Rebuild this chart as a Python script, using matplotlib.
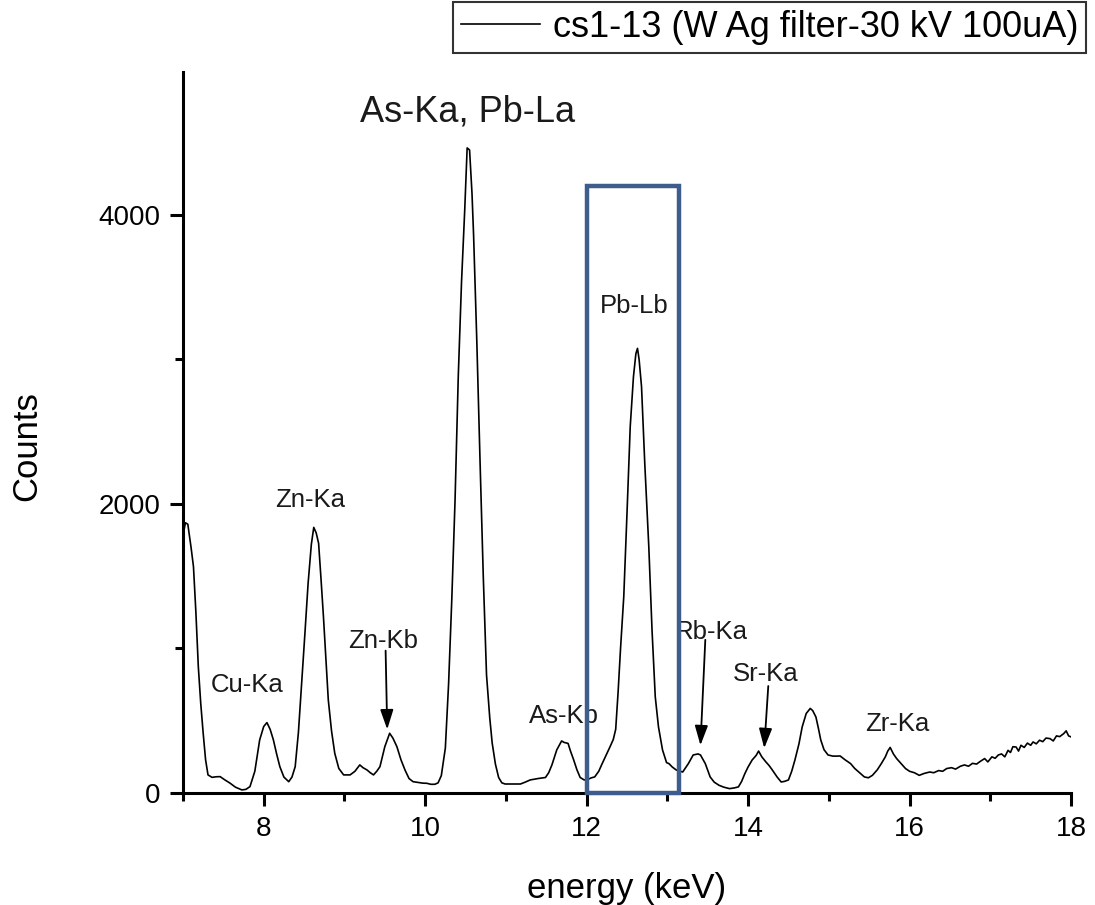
import matplotlib
matplotlib.use("Agg")
import matplotlib.pyplot as plt
from matplotlib.patches import Rectangle
from matplotlib.ticker import MultipleLocator

plt.rcParams['font.family'] = ['Liberation Sans', 'DejaVu Sans']

# ---- data ----
energy = [7.00, 7.03, 7.06, 7.10, 7.13, 7.16, 7.19, 7.22, 7.25, 7.28, 7.31, 7.36, 7.41, 7.46,
          7.52, 7.58, 7.65, 7.73, 7.78, 7.83, 7.89, 7.95, 8.00, 8.04, 8.08, 8.12, 8.16, 8.20,
          8.25, 8.31, 8.35, 8.39, 8.43, 8.47, 8.51, 8.55, 8.59, 8.62, 8.65, 8.68, 8.71, 8.74,
          8.77, 8.80, 8.84, 8.88, 8.93, 8.99, 9.07, 9.13, 9.19, 9.23, 9.28, 9.32, 9.36, 9.40,
          9.44, 9.50, 9.56, 9.60, 9.65, 9.70, 9.75, 9.80, 9.85, 9.92, 9.97, 10.02, 10.07, 10.12,
          10.16, 10.20, 10.25, 10.29, 10.33, 10.37, 10.41, 10.45, 10.49, 10.52, 10.55, 10.58,
          10.60, 10.64, 10.68, 10.72, 10.76, 10.80, 10.83, 10.87, 10.91, 10.95, 10.99, 11.10,
          11.18, 11.24, 11.30, 11.40, 11.49, 11.53, 11.57, 11.63, 11.69, 11.72, 11.77, 11.80,
          11.84, 11.88, 11.92, 11.97, 12.02, 12.06, 12.10, 12.15, 12.19, 12.24, 12.29, 12.33,
          12.36, 12.39, 12.42, 12.46, 12.50, 12.54, 12.58, 12.61, 12.63, 12.65, 12.68, 12.72,
          12.77, 12.81, 12.85, 12.89, 12.94, 12.99, 13.02, 13.06, 13.11, 13.19, 13.26, 13.32,
          13.38, 13.41, 13.47, 13.53, 13.58, 13.64, 13.70, 13.77, 13.83, 13.88, 13.92, 13.96,
          14.00, 14.05, 14.10, 14.13, 14.17, 14.22, 14.26, 14.30, 14.36, 14.41, 14.45, 14.50,
          14.54, 14.58, 14.63, 14.67, 14.72, 14.77, 14.80, 14.84, 14.87, 14.90, 14.94, 14.99,
          15.05, 15.10, 15.14, 15.20, 15.27, 15.32, 15.38, 15.44, 15.49, 15.54, 15.60, 15.65,
          15.70, 15.73, 15.76, 15.80, 15.84, 15.90, 15.95, 16.00, 16.06, 16.12, 16.18, 16.25,
          16.30, 16.36, 16.41, 16.46, 16.52, 16.57, 16.63, 16.68, 16.73, 16.78, 16.83, 16.88,
          16.93, 16.97, 17.02, 17.06, 17.10, 17.14, 17.18, 17.22, 17.25, 17.28, 17.32, 17.35,
          17.38, 17.42, 17.46, 17.50, 17.53, 17.57, 17.61, 17.65, 17.69, 17.74, 17.78, 17.82,
          17.86, 17.91, 17.94, 17.97, 18.00]
counts = [1780, 1870, 1860, 1700, 1566, 1250, 874, 620, 415, 230, 125, 108, 112, 113,
          90, 69, 40, 21, 25, 44, 150, 367, 460, 487, 440, 367, 270, 182,
          110, 78, 110, 182, 420, 759, 1100, 1451, 1720, 1838, 1800, 1728, 1480, 1220,
          930, 644, 430, 275, 170, 125, 125, 150, 194, 175, 159, 140, 125, 150,
          182, 320, 413, 380, 320, 230, 159, 100, 78, 72, 68, 67, 60, 60,
          70, 120, 311, 754, 1343, 2024, 2882, 3532, 4035, 4464, 4450, 4150,
          3857, 3120, 2290, 1495, 817, 520, 346, 200, 107, 70, 62, 62,
          62, 75, 90, 100, 107, 140, 194, 298, 360, 350, 343, 290,
          228, 160, 107, 90, 95, 105, 111, 150, 200, 260, 320, 370,
          440, 700, 1000, 1359, 1935, 2535, 2881, 3040, 3077, 3000, 2812, 2282,
          1705, 1128, 666, 457, 298, 210, 203, 180, 159, 145, 203, 263,
          270, 263, 203, 111, 75, 53, 40, 30, 35, 42, 80, 134,
          180, 228, 260, 290, 250, 215, 190, 159, 110, 76, 80, 90,
          150, 228, 340, 457, 550, 585, 570, 526, 450, 367, 300, 263,
          255, 255, 256, 230, 203, 170, 140, 111, 105, 122, 160, 203,
          250, 290, 315, 270, 238, 200, 169, 150, 140, 122, 135, 145,
          140, 155, 150, 169, 175, 165, 185, 194, 185, 205, 200, 220,
          238, 215, 250, 240, 263, 270, 250, 295, 280, 320, 318, 290,
          330, 315, 345, 330, 353, 340, 365, 355, 380, 376, 360, 395,
          390, 411, 430, 395, 388]

series_label = "cs1-13 (W Ag filter-30 kV 100uA)"

peak_labels = ["As-Ka, Pb-La", "Zn-Ka", "Cu-Ka", "Zn-Kb", "As-Kb", "Pb-Lb", "Rb-Ka", "Sr-Ka", "Zr-Ka"]
label_x = [10.52, 8.57, 7.80, 9.48, 11.72, 12.59, 13.55, 14.22, 15.85]
label_y = [4713, 2028, 747, 1052, 533, 3370, 1111, 823, 477]

arrow_labels = ["Zn-Kb", "Rb-Ka", "Sr-Ka"]
arrow_from = [(9.51, 985), (13.47, 1060), (14.25, 740)]
arrow_to = [(9.53, 440), (13.41, 330), (14.20, 310)]

box_x0, box_x1, box_top = 12.0, 13.15, 4200

# ---- figure ----
fig = plt.figure(figsize=(10.95, 9.05), dpi=100)
ax = fig.add_axes([0.1671, 0.1238, 0.8110, 0.7967])

line, = ax.plot(energy, counts, color='black', lw=1.2, label=series_label)

ax.set_xlim(7, 18)
ax.set_ylim(0, 4990)
ax.xaxis.set_major_locator(MultipleLocator(2))
ax.xaxis.set_minor_locator(MultipleLocator(1))
ax.yaxis.set_major_locator(MultipleLocator(2000))
ax.yaxis.set_minor_locator(MultipleLocator(1000))

for s in ['top', 'right']:
    ax.spines[s].set_visible(False)
for s in ['left', 'bottom']:
    ax.spines[s].set_linewidth(2.2)

ax.tick_params(which='major', length=9.5, width=2.2, labelsize=20, pad=7)
ax.tick_params(which='minor', length=5.5, width=2.2)

ax.set_xlabel("energy (keV)", fontsize=25)
ax.set_ylabel("Counts", fontsize=25)
ax.xaxis.set_label_coords(0.5, -0.132)
ax.xaxis.label.set_va('center')
ax.yaxis.set_label_coords(-0.176, 0.481)
ax.yaxis.label.set_va('center')

for txt, x, y in zip(peak_labels, label_x, label_y):
    fs = 26 if txt.startswith("As-Ka") else 18.5
    ax.text(x, y, txt, fontsize=fs, ha='center', va='center', color='#1a1a1a')

for name, p0, p1 in zip(arrow_labels, arrow_from, arrow_to):
    ax.annotate("", xy=p1, xytext=p0,
                arrowprops=dict(arrowstyle='-|>,head_length=0.6,head_width=0.2',
                                mutation_scale=20, lw=1.3, color='black',
                                shrinkA=0, shrinkB=0))

rect = Rectangle((box_x0, 0), box_x1 - box_x0, box_top, fill=False,
                 edgecolor='#3e5d8c', lw=3.2, clip_on=False, zorder=5)
ax.add_patch(rect)

leg = ax.legend(handles=[line], loc='upper right', bbox_to_anchor=(0.992, 0.998),
                bbox_transform=fig.transFigure, borderaxespad=0, fontsize=26,
                frameon=True, fancybox=False, framealpha=1, edgecolor='#333333',
                borderpad=0.22, handlelength=2.2, handletextpad=0.35)
leg.get_frame().set_linewidth(1.5)

fig.savefig("out.png", dpi=100)
